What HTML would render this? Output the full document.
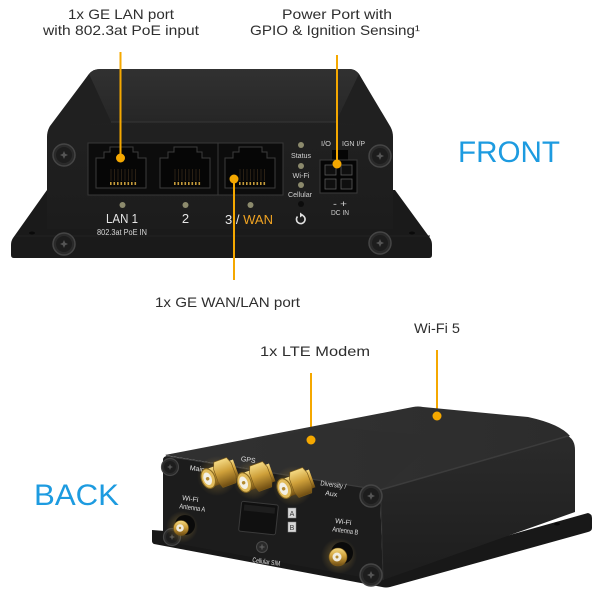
<!DOCTYPE html>
<html><head><meta charset="utf-8"><style>
html,body{margin:0;padding:0;background:#fff;}
svg{display:block}
text{font-family:"Liberation Sans",Arial,sans-serif}
</style></head><body>
<svg width="600" height="600" viewBox="0 0 600 600" xmlns="http://www.w3.org/2000/svg">
<defs>
 <linearGradient id="ftop" x1="0" y1="0" x2="0" y2="1"><stop offset="0" stop-color="#313131"/><stop offset="1" stop-color="#262626"/></linearGradient>
 <linearGradient id="fface" x1="0" y1="0" x2="0" y2="1"><stop offset="0" stop-color="#232323"/><stop offset="1" stop-color="#1c1c1c"/></linearGradient>
 <linearGradient id="gold" x1="0" y1="0" x2="0" y2="1"><stop offset="0" stop-color="#f5da84"/><stop offset="0.45" stop-color="#cfa03a"/><stop offset="1" stop-color="#6e4c12"/></linearGradient>
 <radialGradient id="glow"><stop offset="0" stop-color="#c9a040" stop-opacity="0.45"/><stop offset="1" stop-color="#c9a040" stop-opacity="0"/></radialGradient>
 <linearGradient id="bside" x1="0" y1="0" x2="0" y2="1"><stop offset="0" stop-color="#2b2b2b"/><stop offset="1" stop-color="#1d1d1d"/></linearGradient>
 <linearGradient id="btop" x1="0" y1="0" x2="1" y2="0"><stop offset="0" stop-color="#333"/><stop offset="1" stop-color="#2c2c2c"/></linearGradient>
 <g id="screw">
  <circle r="11" fill="#2a2a2a" stroke="#454545" stroke-width="1.5"/>
  <circle r="8" fill="#1d1d1d"/>
  <path d="M0,-4 L1.2,-1.2 L4,0 L1.2,1.2 L0,4 L-1.2,1.2 L-4,0 L-1.2,-1.2Z" fill="#555"/>
 </g>
 <g id="sscrew">
  <circle r="8.5" fill="#2a2a2a" stroke="#454545" stroke-width="1.2"/>
  <circle r="6" fill="#1d1d1d"/>
  <path d="M0,-3 L0.9,-0.9 L3,0 L0.9,0.9 L0,3 L-0.9,0.9 L-3,0 L-0.9,-0.9Z" fill="#555"/>
 </g>
 <g id="rj">
  <path d="M14,0 L37,0 L37,5 L42,5 L42,11 L50,11 L50,41 L0,41 L0,11 L8,11 L8,5 L14,5Z" fill="#060606" stroke="#3c3c3c" stroke-width="1"/>
  <g stroke="#2a2014" stroke-width="1">
   <path d="M15,22 L15,34 M18.5,22 L18.5,34 M22,22 L22,34 M25.5,22 L25.5,34 M29,22 L29,34 M32.5,22 L32.5,34 M36,22 L36,34 M39.5,22 L39.5,34"/>
  </g>
  <g fill="#c49a3a">
   <rect x="14" y="35" width="1.6" height="3"/><rect x="17.5" y="35" width="1.6" height="3"/><rect x="21" y="35" width="1.6" height="3"/><rect x="24.5" y="35" width="1.6" height="3"/>
   <rect x="28" y="35" width="1.6" height="3"/><rect x="31.5" y="35" width="1.6" height="3"/><rect x="35" y="35" width="1.6" height="3"/><rect x="38.5" y="35" width="1.6" height="3"/>
  </g>
 </g>
 <g id="sma">
  <circle cx="10" cy="-3" r="20" fill="url(#glow)"/>
  <g transform="rotate(-20) scale(1.35)">
   <rect x="1" y="-7" width="22" height="14" fill="url(#gold)"/>
   <polygon points="9,-10 19,-10 21,-5 21,5 19,10 9,10 7,5 7,-5" fill="url(#gold)" stroke="#7a5a1a" stroke-width="0.5"/>
   <ellipse cx="1" cy="0" rx="5" ry="7.5" fill="#e2bc5c" stroke="#8a6a20" stroke-width="0.8"/>
   <ellipse cx="0.5" cy="0" rx="3" ry="4.8" fill="#f3f0e6"/>
   <circle cx="0.5" cy="0" r="1.3" fill="#b48a30"/>
  </g>
 </g>
</defs>

<rect width="600" height="600" fill="#fff"/>

<!-- ============ FRONT DEVICE ============ -->
<path d="M47,190 L13,238 Q11,241 11,245 L11,255 Q11,258 14,258 L429,258 Q432,258 432,255 L432,245 Q432,241 430,238 L395,190 Z" fill="#1a1a1a"/>
<path d="M100,69 L350,69 Q355,69 359,74 L390,126 Q393,131 393,137 L393,229 L47,229 L47,137 Q47,131 50,126 L89,74 Q93,69 100,69 Z" fill="url(#fface)"/>
<path d="M100,69 L350,69 Q355,69 359,74 L336,122 L111,122 L89,74 Q93,69 100,69 Z" fill="url(#ftop)"/>
<path d="M89,74 L111,122 L50,128 Z" fill="#202020"/>
<path d="M359,74 L336,122 L390,128 Z" fill="#202020"/>
<line x1="111" y1="122" x2="336" y2="122" stroke="#363636" stroke-width="1"/>
<line x1="15" y1="236" x2="430" y2="236" stroke="#222" stroke-width="1"/>
<ellipse cx="32" cy="233" rx="3" ry="1.5" fill="#0a0a0a"/>
<ellipse cx="412" cy="233" rx="3" ry="1.5" fill="#0a0a0a"/>

<!-- port block -->
<rect x="88" y="143" width="195" height="52" fill="#0c0c0c" stroke="#383838" stroke-width="1"/>
<line x1="218" y1="143" x2="218" y2="195" stroke="#383838" stroke-width="1"/>
<use href="#rj" x="96" y="147"/>
<use href="#rj" x="160" y="147"/>
<use href="#rj" x="225" y="147"/>

<!-- LEDs -->
<g fill="#8c8a6c">
 <circle cx="122.5" cy="205" r="3"/><circle cx="185.5" cy="205" r="3"/><circle cx="250.5" cy="205" r="3"/>
 <circle cx="301" cy="145" r="3"/><circle cx="301" cy="166" r="3"/><circle cx="301" cy="185" r="3"/>
</g>
<circle cx="301" cy="204" r="3" fill="#0c0c0c"/>

<text x="122" y="223" font-size="13" fill="#e6e6e6" text-anchor="middle" textLength="32" lengthAdjust="spacingAndGlyphs">LAN 1</text>
<text x="122" y="235" font-size="8" fill="#d8d8d8" text-anchor="middle" textLength="50" lengthAdjust="spacingAndGlyphs">802.3at PoE IN</text>
<text x="185.5" y="223" font-size="13" fill="#e6e6e6" text-anchor="middle">2</text>
<text x="225" y="224" font-size="13" fill="#e6e6e6" textLength="48" lengthAdjust="spacingAndGlyphs">3 / <tspan fill="#f0a322">WAN</tspan></text>

<g font-size="7" fill="#d0d0d0" text-anchor="middle">
 <text x="301" y="158" textLength="20" lengthAdjust="spacingAndGlyphs">Status</text>
 <text x="301" y="178" textLength="17" lengthAdjust="spacingAndGlyphs">Wi-Fi</text>
 <text x="300" y="197" textLength="24" lengthAdjust="spacingAndGlyphs">Cellular</text>
 <text x="326" y="146" textLength="10" lengthAdjust="spacingAndGlyphs">I/O</text>
 <text x="353.5" y="146" textLength="23" lengthAdjust="spacingAndGlyphs">IGN I/P</text>
 <text x="340" y="207" font-size="9" textLength="14" lengthAdjust="spacingAndGlyphs">- +</text>
 <text x="340" y="215" textLength="18" lengthAdjust="spacingAndGlyphs">DC IN</text>
</g>
<!-- reset icon -->
<path d="M297.5,216.5 A4.3,4.3 0 1 0 301,215" fill="none" stroke="#e0e0e0" stroke-width="1.6"/>
<path d="M300,212.5 L303.5,215 L300,217.5Z" fill="#e0e0e0"/>

<!-- power connector -->
<rect x="332" y="150" width="16" height="11" fill="#050505"/>
<rect x="320" y="160" width="37" height="33" fill="#050505" stroke="#3a3a3a" stroke-width="1"/>
<g fill="#0f0f0f" stroke="#5a5a5a" stroke-width="0.8">
 <rect x="325" y="165" width="11" height="10"/><rect x="341" y="165" width="11" height="10"/>
 <rect x="325" y="179" width="11" height="10"/><rect x="341" y="179" width="11" height="10"/>
</g>

<use href="#screw" x="64" y="155"/>
<use href="#screw" x="380" y="156"/>
<use href="#screw" x="64" y="244"/>
<use href="#screw" x="380" y="243"/>

<!-- callout lines -->
<g stroke="#f5a800" stroke-width="2">
 <line x1="120.5" y1="52" x2="120.5" y2="158"/>
 <line x1="337" y1="55" x2="337" y2="164"/>
 <line x1="234" y1="179" x2="234" y2="280"/>
 <line x1="311" y1="373" x2="311" y2="440"/>
 <line x1="437" y1="350" x2="437" y2="416"/>
</g>

<!-- ============ BACK DEVICE ============ -->
<path d="M152,530 L165,531 L385,570 L588,513 Q592,514 592,518 L592,528 Q592,531 588,532 L390,587 Q386,588 382,587 L154,544 Q152,543 152,541 Z" fill="#181818"/>
<ellipse cx="557" cy="524" rx="3" ry="1.5" fill="#080808"/>
<path d="M165,455 L413,407 Q418,406 423,407 L528,417 Q560,424 570,436 L380,490 Z" fill="url(#btop)"/>
<path d="M165,455 L330,427 L440,437 L380,490 Z" fill="#2f2f2f" opacity="0.6"/>
<path d="M380,490 L568,436 Q575,440 575,450 L575,512 L383,580 Z" fill="url(#bside)"/>
<path d="M163,460 Q163,456 168,456 L380,490 L383,581 L163,541 Z" fill="#1c1c1c"/>
<line x1="166" y1="456" x2="380" y2="490" stroke="#3c3c3c" stroke-width="1.2"/>
<line x1="380" y1="490" x2="568" y2="436" stroke="#3c3c3c" stroke-width="1.5"/>
<line x1="381" y1="491" x2="383" y2="580" stroke="#2e2e2e" stroke-width="1"/>

<!-- back face screws -->
<use href="#sscrew" x="170" y="467"/>
<use href="#sscrew" x="172" y="537"/>
<use href="#screw" x="371" y="496"/>
<use href="#screw" x="371" y="575"/>
<g transform="translate(262,547)">
 <circle r="5.5" fill="#2a2a2a" stroke="#4a4a4a" stroke-width="1"/>
 <path d="M-2.5,0 L2.5,0 M0,-2.5 L0,2.5" stroke="#666" stroke-width="1"/>
</g>

<g font-size="7" fill="#e0e0e0" text-anchor="middle">
 <text x="197" y="471" transform="rotate(8,197,471)">Main</text>
</g>

<!-- SMA connectors -->
<use href="#sma" x="207" y="479"/>
<use href="#sma" x="243" y="483"/>
<use href="#sma" x="283" y="489"/>

<!-- Wi-Fi A -->
<circle cx="182" cy="527" r="16" fill="url(#glow)"/>
<circle cx="185" cy="525" r="10" fill="#0a0a0a"/>
<circle cx="181" cy="528" r="7.5" fill="url(#gold)" stroke="#7a5a1a" stroke-width="0.6"/>
<circle cx="180" cy="528" r="3.8" fill="#f0ece0"/>
<circle cx="180" cy="528" r="1.2" fill="#b48a30"/>

<!-- Wi-Fi B -->
<circle cx="339" cy="556" r="18" fill="url(#glow)"/>
<circle cx="342" cy="553" r="11" fill="#0a0a0a"/>
<circle cx="338" cy="557" r="9" fill="url(#gold)" stroke="#7a5a1a" stroke-width="0.6"/>
<circle cx="337" cy="557" r="4.5" fill="#f0ece0"/>
<circle cx="337" cy="557" r="1.5" fill="#b48a30"/>

<!-- SIM slot -->
<g transform="rotate(6,258,518)">
 <rect x="240" y="503" width="37" height="30" rx="2" fill="#101010" stroke="#3a3a3a" stroke-width="1"/>
 <rect x="243" y="506" width="31" height="6" fill="#1e1e1e"/>
</g>
<rect x="288" y="508" width="8" height="10" fill="#d8d8d8" stroke="#888" stroke-width="0.5"/>
<rect x="288" y="522" width="8" height="10" fill="#d8d8d8" stroke="#888" stroke-width="0.5"/>
<text x="292" y="516" font-size="7" fill="#333" text-anchor="middle">A</text>
<text x="292" y="530" font-size="7" fill="#333" text-anchor="middle">B</text>

<g font-size="7" fill="#e0e0e0" text-anchor="middle">
 <text x="248" y="462" transform="rotate(8,248,462)">GPS</text>
 <text x="333" y="487" transform="rotate(8,333,487)" textLength="26" lengthAdjust="spacingAndGlyphs">Diversity /</text>
 <text x="331" y="496" transform="rotate(8,331,496)">Aux</text>
 <text x="190" y="501" transform="rotate(8,190,501)">Wi-Fi</text>
 <text x="192" y="510" transform="rotate(8,192,510)" textLength="26" lengthAdjust="spacingAndGlyphs">Antenna A</text>
 <text x="343" y="524" transform="rotate(8,343,524)">Wi-Fi</text>
 <text x="345" y="533" transform="rotate(8,345,533)" textLength="26" lengthAdjust="spacingAndGlyphs">Antenna B</text>
 <text x="266" y="564" transform="rotate(8,266,564)" textLength="28" lengthAdjust="spacingAndGlyphs">Cellular SIM</text>
</g>

<!-- dots -->
<g fill="#f5a800">
 <circle cx="120.5" cy="158" r="4.5"/>
 <circle cx="337" cy="164" r="4.5"/>
 <circle cx="234" cy="179" r="4.5"/>
 <circle cx="311" cy="440" r="4.5"/>
 <circle cx="437" cy="416" r="4.5"/>
</g>

<!-- callout labels -->
<g font-size="14" fill="#2e2e2e" text-anchor="middle">
 <text x="121" y="19" textLength="106" lengthAdjust="spacingAndGlyphs">1x GE LAN port</text>
 <text x="121" y="35" textLength="156" lengthAdjust="spacingAndGlyphs">with 802.3at PoE input</text>
 <text x="337" y="19" textLength="110" lengthAdjust="spacingAndGlyphs">Power Port with</text>
 <text x="335" y="35" textLength="170" lengthAdjust="spacingAndGlyphs">GPIO &amp; Ignition Sensing¹</text>
 <text x="227.5" y="307" textLength="145" lengthAdjust="spacingAndGlyphs">1x GE WAN/LAN port</text>
 <text x="437" y="333" textLength="46" lengthAdjust="spacingAndGlyphs">Wi-Fi 5</text>
 <text x="315" y="356" textLength="110" lengthAdjust="spacingAndGlyphs">1x LTE Modem</text>
</g>

<text x="458" y="162" font-size="30" fill="#1d9be0" textLength="102" lengthAdjust="spacingAndGlyphs">FRONT</text>
<text x="34" y="505" font-size="30" fill="#1d9be0" textLength="85" lengthAdjust="spacingAndGlyphs">BACK</text>
</svg>
</body></html>
